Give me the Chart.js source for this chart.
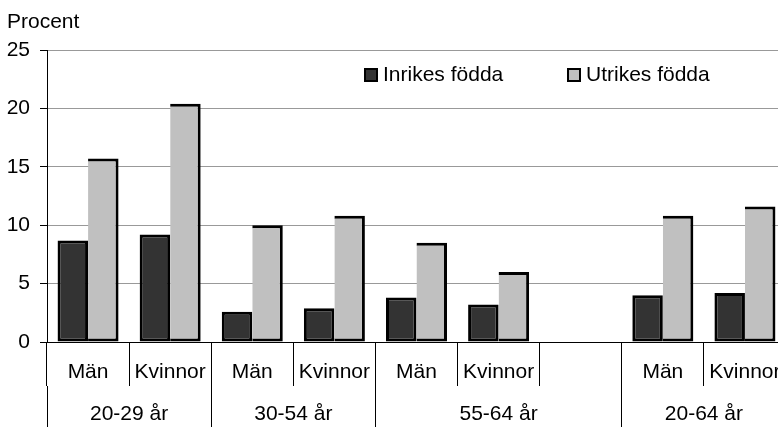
<!DOCTYPE html>
<html>
<head>
<meta charset="utf-8">
<script src="https://cdn.jsdelivr.net/npm/chart.js@4.4.1/dist/chart.umd.min.js"></script>
<style>
    html, body { margin: 0; padding: 0; background: #fff; overflow: hidden; }
    canvas { display: block; }
</style>
</head>
<body>
<canvas id="chart-bar" width="790" height="427"></canvas>
<script>
// ____ data ____
const kon = ['Män', 'Kvinnor', 'Män', 'Kvinnor', 'Män', 'Kvinnor', '', 'Män', 'Kvinnor'];
const inrikes = [8.7, 9.2, 2.6, 2.9, 3.8, 3.2, null, 4.0, 4.2];
const utrikes = [15.7, 20.4, 10.0, 10.8, 8.5, 6.0, null, 10.8, 11.6];
const aldersgrupper = ['20-29 år', '30-54 år', '55-64 år', '20-64 år'];
const gruppStart = [0, 2, 4, 7];
const gruppSlut = [1, 3, 6, 8];
const yMax = 25;
const yStep = 5;

const font = '"Liberation Sans", Arial, sans-serif';
Chart.defaults.font.family = font;
Chart.defaults.font.size = 21;
Chart.defaults.color = '#000';

// ticks for the age-group row: borders get a line, centers get the text
let gruppTicks = [];
gruppStart.forEach(function (s, i) {
    gruppTicks.push({value: s - 0.5, label: ''});
    gruppTicks.push({value: (s + gruppSlut[i]) / 2, label: aldersgrupper[i]});
});
gruppTicks.push({value: gruppSlut[gruppSlut.length - 1] + 0.5, label: ''});

// legend drawn in the plot, to the right
const legendRad = {
    id: 'legendRad',
    afterDraw: function (chart) {
        let ctx = chart.ctx;
        let xs = [364, 567];
        ctx.save();
        ctx.font = '21px ' + font;
        ctx.textBaseline = 'middle';
        chart.data.datasets.forEach(function (ds, i) {
            ctx.fillStyle = ds.backgroundColor;
            ctx.fillRect(xs[i], 68, 14, 14);
            ctx.lineWidth = 2;
            ctx.strokeStyle = '#000';
            ctx.strokeRect(xs[i] + 1, 69, 12, 12);
            ctx.fillStyle = '#000';
            ctx.fillText(ds.label, xs[i] + 19, 75);
        });
        ctx.restore();
    }
};

const data = {
    labels: kon,
    datasets: [{
        label: 'Inrikes födda',
        data: inrikes,
        backgroundColor: '#333333',
        borderColor: '#000',
        borderWidth: 3,
        borderSkipped: false,
        categoryPercentage: 0.743,
        barPercentage: 1
    }, {
        label: 'Utrikes födda',
        data: utrikes,
        backgroundColor: '#c0c0c0',
        borderColor: '#000',
        borderWidth: 3,
        borderSkipped: 'left',
        categoryPercentage: 0.743,
        barPercentage: 1
    }]
};

new Chart(
    document.getElementById('chart-bar'),
    {
        type: 'bar',
        data: data,
        plugins: [legendRad],
        options: {
            responsive: false,
            animation: false,
            devicePixelRatio: 1,
            events: [],
            layout: {padding: {left: 7, right: 4, top: 0, bottom: 0}},
            plugins: {
                legend: {display: false},
                tooltip: {enabled: false},
                title: {
                    display: true,
                    text: 'Procent',
                    align: 'start',
                    color: '#000',
                    font: {size: 21, weight: 'normal'},
                    padding: {top: 10, bottom: 14.8}
                }
            },
            scales: {
                y: {
                    min: 0,
                    max: yMax,
                    ticks: {stepSize: yStep, padding: 10},
                    border: {color: '#000'},
                    grid: {
                        color: function (ctx) { return ctx.tick && ctx.tick.value === 0 ? '#000' : '#999999'; },
                        tickColor: '#000',
                        tickLength: 7
                    },
                    afterFit: function (scale) { scale.width = 40; }
                },
                x: {
                    offset: true,
                    border: {color: '#000'},
                    grid: {offset: true, drawOnChartArea: false, color: '#000', tickLength: 44},
                    ticks: {autoSkip: false, maxRotation: 0, padding: -26},
                    afterFit: function (scale) { scale.height = 44; }
                },
                x2: {
                    type: 'linear',
                    position: 'bottom',
                    weight: 1,
                    min: -0.5,
                    max: gruppSlut[gruppSlut.length - 1] + 0.5,
                    offset: false,
                    border: {display: false},
                    grid: {
                        offset: false,
                        drawOnChartArea: false,
                        tickLength: 41,
                        color: function (ctx) {
                            let t = gruppTicks[ctx.index];
                            return t && t.label === '' ? '#000' : 'rgba(0,0,0,0)';
                        }
                    },
                    ticks: {
                        autoSkip: false,
                        maxRotation: 0,
                        padding: -25,
                        callback: function (value, index) { return gruppTicks[index] ? gruppTicks[index].label : ''; }
                    },
                    afterBuildTicks: function (scale) {
                        scale.ticks = gruppTicks.map(function (t) { return {value: t.value}; });
                    },
                    afterFit: function (scale) { scale.height = 41; }
                }
            }
        }
    }
);
</script>
</body>
</html>
